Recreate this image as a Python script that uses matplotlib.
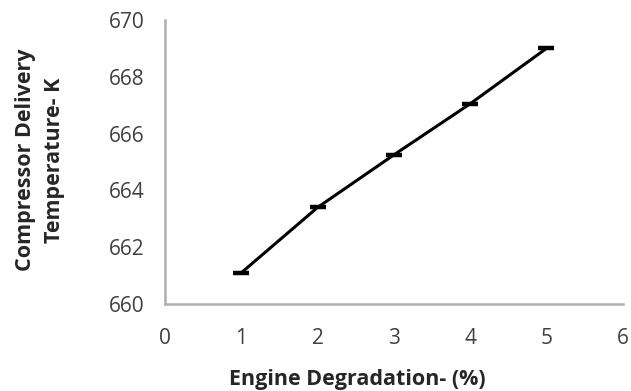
import matplotlib
matplotlib.use("Agg")
import matplotlib.pyplot as plt

degradation = [1, 2, 3, 4, 5]
temperature = [661.1, 663.4, 665.25, 667.05, 669.0]
x_ticks = [0, 1, 2, 3, 4, 5, 6]
y_ticks = [660, 662, 664, 666, 668, 670]

plt.rcParams['font.family'] = ['Open Sans', 'DejaVu Sans']

fig = plt.figure(figsize=(6.31, 3.91), dpi=100)
ax = fig.add_axes([0.2615, 0.2225, 0.7255, 0.7265])
ax.plot(degradation, temperature, color='black', lw=2.2, marker='_', ms=12, mew=3.2)
ax.set_xlim(0, 6)
ax.set_ylim(660, 670)
ax.set_xticks(x_ticks)
ax.set_yticks(y_ticks)
ax.tick_params(length=0, labelsize=15, colors='#404040')
ax.tick_params(axis='x', pad=17)
ax.tick_params(axis='y', pad=15)
for s in ['top', 'right']:
    ax.spines[s].set_visible(False)
for s in ['left', 'bottom']:
    ax.spines[s].set_color('#b0b0b0')
    ax.spines[s].set_linewidth(1.8)
fig.text(357/631, 1 - 380/391, 'Engine Degradation- (%)', ha='center', va='center',
         fontsize=15.5, fontweight='bold', color='#262626')
fig.text(40/631, 1 - 160/391, 'Compressor Delivery\nTemperature- K', ha='center', va='center',
         rotation=90, fontsize=15.5, fontweight='bold', color='#262626', linespacing=1.45)
fig.savefig('out.png', dpi=100)
